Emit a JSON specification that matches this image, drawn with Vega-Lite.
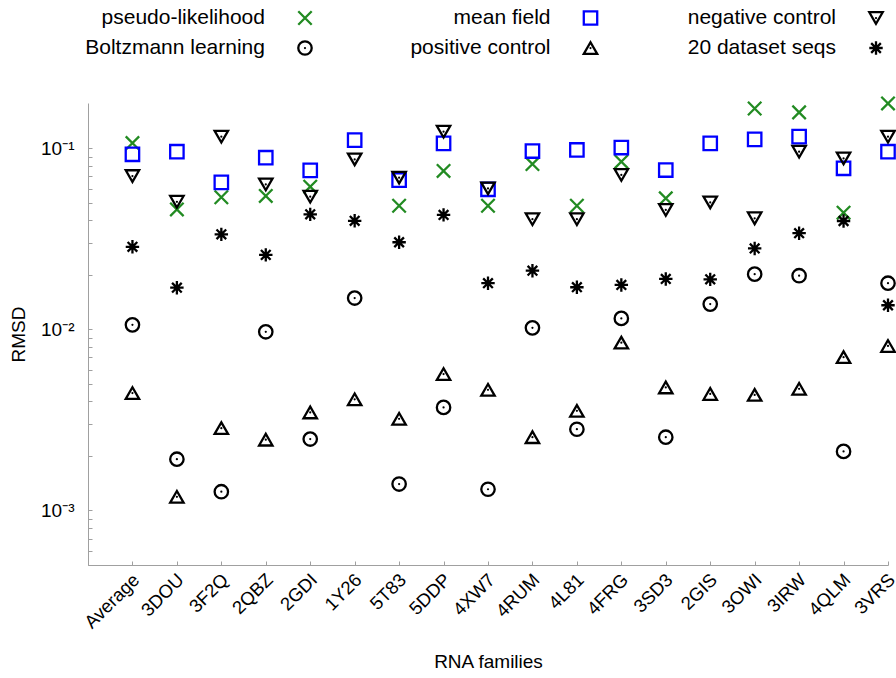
{
  "$schema": "https://vega.github.io/schema/vega-lite/v6.json",
  "width": 800,
  "height": 462,
  "autosize": "none",
  "padding": {"left": 88, "top": 103, "right": 8, "bottom": 113},
  "background": "white",
  "config": {
    "view": {"stroke": null},
    "font": "Liberation Sans",
    "axis": {
      "grid": false,
      "domainColor": "#a0a0a0",
      "tickColor": "#a0a0a0",
      "labelColor": "black",
      "titleColor": "black",
      "titleFontWeight": "normal",
      "titleFont": "Liberation Sans",
      "labelFont": "Liberation Sans"
    }
  },
  "datasets": {
    "main": [
      {"family": "Average", "series": "pseudo-likelihood", "rmsd": 0.107},
      {"family": "3DOU", "series": "pseudo-likelihood", "rmsd": 0.046},
      {"family": "3F2Q", "series": "pseudo-likelihood", "rmsd": 0.0537},
      {"family": "2QBZ", "series": "pseudo-likelihood", "rmsd": 0.0546},
      {"family": "2GDI", "series": "pseudo-likelihood", "rmsd": 0.0614},
      {"family": "5T83", "series": "pseudo-likelihood", "rmsd": 0.0482},
      {"family": "5DDP", "series": "pseudo-likelihood", "rmsd": 0.075},
      {"family": "4XW7", "series": "pseudo-likelihood", "rmsd": 0.0482},
      {"family": "4RUM", "series": "pseudo-likelihood", "rmsd": 0.0819},
      {"family": "4L81", "series": "pseudo-likelihood", "rmsd": 0.0482},
      {"family": "4FRG", "series": "pseudo-likelihood", "rmsd": 0.0844},
      {"family": "3SD3", "series": "pseudo-likelihood", "rmsd": 0.053},
      {"family": "3OWI", "series": "pseudo-likelihood", "rmsd": 0.166},
      {"family": "3IRW", "series": "pseudo-likelihood", "rmsd": 0.158},
      {"family": "4QLM", "series": "pseudo-likelihood", "rmsd": 0.0441},
      {"family": "3VRS", "series": "pseudo-likelihood", "rmsd": 0.177},

      {"family": "Average", "series": "Boltzmann learning", "rmsd": 0.0106},
      {"family": "3DOU", "series": "Boltzmann learning", "rmsd": 0.00192},
      {"family": "3F2Q", "series": "Boltzmann learning", "rmsd": 0.00127},
      {"family": "2QBZ", "series": "Boltzmann learning", "rmsd": 0.0097},
      {"family": "2GDI", "series": "Boltzmann learning", "rmsd": 0.00248},
      {"family": "1Y26", "series": "Boltzmann learning", "rmsd": 0.0149},
      {"family": "5T83", "series": "Boltzmann learning", "rmsd": 0.0014},
      {"family": "5DDP", "series": "Boltzmann learning", "rmsd": 0.00371},
      {"family": "4XW7", "series": "Boltzmann learning", "rmsd": 0.00131},
      {"family": "4RUM", "series": "Boltzmann learning", "rmsd": 0.0102},
      {"family": "4L81", "series": "Boltzmann learning", "rmsd": 0.00281},
      {"family": "4FRG", "series": "Boltzmann learning", "rmsd": 0.0115},
      {"family": "3SD3", "series": "Boltzmann learning", "rmsd": 0.00254},
      {"family": "2GIS", "series": "Boltzmann learning", "rmsd": 0.0138},
      {"family": "3OWI", "series": "Boltzmann learning", "rmsd": 0.0202},
      {"family": "3IRW", "series": "Boltzmann learning", "rmsd": 0.0198},
      {"family": "4QLM", "series": "Boltzmann learning", "rmsd": 0.00212},
      {"family": "3VRS", "series": "Boltzmann learning", "rmsd": 0.018},

      {"family": "Average", "series": "mean field", "rmsd": 0.0927},
      {"family": "3DOU", "series": "mean field", "rmsd": 0.0958},
      {"family": "3F2Q", "series": "mean field", "rmsd": 0.0649},
      {"family": "2QBZ", "series": "mean field", "rmsd": 0.0888},
      {"family": "2GDI", "series": "mean field", "rmsd": 0.0756},
      {"family": "1Y26", "series": "mean field", "rmsd": 0.111},
      {"family": "5T83", "series": "mean field", "rmsd": 0.0668},
      {"family": "5DDP", "series": "mean field", "rmsd": 0.1066},
      {"family": "4XW7", "series": "mean field", "rmsd": 0.0594},
      {"family": "4RUM", "series": "mean field", "rmsd": 0.0966},
      {"family": "4L81", "series": "mean field", "rmsd": 0.098},
      {"family": "4FRG", "series": "mean field", "rmsd": 0.101},
      {"family": "3SD3", "series": "mean field", "rmsd": 0.0759},
      {"family": "2GIS", "series": "mean field", "rmsd": 0.1066},
      {"family": "3OWI", "series": "mean field", "rmsd": 0.112},
      {"family": "3IRW", "series": "mean field", "rmsd": 0.116},
      {"family": "4QLM", "series": "mean field", "rmsd": 0.0776},
      {"family": "3VRS", "series": "mean field", "rmsd": 0.0958},

      {"family": "Average", "series": "positive control", "rmsd": 0.00445},
      {"family": "3DOU", "series": "positive control", "rmsd": 0.00119},
      {"family": "3F2Q", "series": "positive control", "rmsd": 0.00285},
      {"family": "2QBZ", "series": "positive control", "rmsd": 0.00246},
      {"family": "2GDI", "series": "positive control", "rmsd": 0.00348},
      {"family": "1Y26", "series": "positive control", "rmsd": 0.00411},
      {"family": "5T83", "series": "positive control", "rmsd": 0.00321},
      {"family": "5DDP", "series": "positive control", "rmsd": 0.00567},
      {"family": "4XW7", "series": "positive control", "rmsd": 0.00464},
      {"family": "4RUM", "series": "positive control", "rmsd": 0.00254},
      {"family": "4L81", "series": "positive control", "rmsd": 0.00355},
      {"family": "4FRG", "series": "positive control", "rmsd": 0.00845},
      {"family": "3SD3", "series": "positive control", "rmsd": 0.00478},
      {"family": "2GIS", "series": "positive control", "rmsd": 0.0044},
      {"family": "3OWI", "series": "positive control", "rmsd": 0.00435},
      {"family": "3IRW", "series": "positive control", "rmsd": 0.0047},
      {"family": "4QLM", "series": "positive control", "rmsd": 0.00703},
      {"family": "3VRS", "series": "positive control", "rmsd": 0.0081},

      {"family": "Average", "series": "negative control", "rmsd": 0.0703},
      {"family": "3DOU", "series": "negative control", "rmsd": 0.0507},
      {"family": "3F2Q", "series": "negative control", "rmsd": 0.116},
      {"family": "2QBZ", "series": "negative control", "rmsd": 0.0632},
      {"family": "2GDI", "series": "negative control", "rmsd": 0.0541},
      {"family": "1Y26", "series": "negative control", "rmsd": 0.0869},
      {"family": "5T83", "series": "negative control", "rmsd": 0.0689},
      {"family": "5DDP", "series": "negative control", "rmsd": 0.1236},
      {"family": "4XW7", "series": "negative control", "rmsd": 0.0601},
      {"family": "4RUM", "series": "negative control", "rmsd": 0.0406},
      {"family": "4L81", "series": "negative control", "rmsd": 0.0406},
      {"family": "4FRG", "series": "negative control", "rmsd": 0.0713},
      {"family": "3SD3", "series": "negative control", "rmsd": 0.0457},
      {"family": "2GIS", "series": "negative control", "rmsd": 0.0503},
      {"family": "3OWI", "series": "negative control", "rmsd": 0.0411},
      {"family": "3IRW", "series": "negative control", "rmsd": 0.0958},
      {"family": "4QLM", "series": "negative control", "rmsd": 0.088},
      {"family": "3VRS", "series": "negative control", "rmsd": 0.116},

      {"family": "Average", "series": "20 dataset seqs", "rmsd": 0.0286},
      {"family": "3DOU", "series": "20 dataset seqs", "rmsd": 0.017},
      {"family": "3F2Q", "series": "20 dataset seqs", "rmsd": 0.0335},
      {"family": "2QBZ", "series": "20 dataset seqs", "rmsd": 0.0258},
      {"family": "2GDI", "series": "20 dataset seqs", "rmsd": 0.0432},
      {"family": "1Y26", "series": "20 dataset seqs", "rmsd": 0.0398},
      {"family": "5T83", "series": "20 dataset seqs", "rmsd": 0.0303},
      {"family": "5DDP", "series": "20 dataset seqs", "rmsd": 0.0429},
      {"family": "4XW7", "series": "20 dataset seqs", "rmsd": 0.018},
      {"family": "4RUM", "series": "20 dataset seqs", "rmsd": 0.0211},
      {"family": "4L81", "series": "20 dataset seqs", "rmsd": 0.0171},
      {"family": "4FRG", "series": "20 dataset seqs", "rmsd": 0.0176},
      {"family": "3SD3", "series": "20 dataset seqs", "rmsd": 0.019},
      {"family": "2GIS", "series": "20 dataset seqs", "rmsd": 0.0189},
      {"family": "3OWI", "series": "20 dataset seqs", "rmsd": 0.028},
      {"family": "3IRW", "series": "20 dataset seqs", "rmsd": 0.034},
      {"family": "4QLM", "series": "20 dataset seqs", "rmsd": 0.0397},
      {"family": "3VRS", "series": "20 dataset seqs", "rmsd": 0.0136}
    ],
    "legend": [
      {"series": "pseudo-likelihood", "col": 0, "row": 0},
      {"series": "mean field", "col": 1, "row": 0},
      {"series": "negative control", "col": 2, "row": 0},
      {"series": "Boltzmann learning", "col": 0, "row": 1},
      {"series": "positive control", "col": 1, "row": 1},
      {"series": "20 dataset seqs", "col": 2, "row": 1}
    ]
  },
  "layer": [
    {
      "data": {"name": "main"},
      "layer": [
        {
          "mark": {"type": "point", "filled": false, "strokeWidth": 2.3, "size": 180, "opacity": 1},
          "encoding": {
            "x": {
              "field": "family", "type": "nominal", "sort": null,
              "scale": {"type": "point", "padding": 0, "domain": ["", "Average", "3DOU", "3F2Q", "2QBZ", "2GDI", "1Y26", "5T83", "5DDP", "4XW7", "4RUM", "4L81", "4FRG", "3SD3", "2GIS", "3OWI", "3IRW", "4QLM", "3VRS"]},
              "axis": {"title": "RNA families", "titleFontSize": 19, "titlePadding": 21, "labelAngle": -45, "labelAlign": "right", "labelBaseline": "top", "labelFontSize": 18.5, "labelOffset": -3, "tickSize": -4, "labelPadding": 9, "labelOverlap": false}
            },
            "y": {
              "field": "rmsd", "type": "quantitative",
              "scale": {"type": "log", "domain": [0.0005, 0.178], "nice": false},
              "axis": {
                "title": "RMSD", "titleFontSize": 19, "titlePadding": 12,
                "values": [0.0005, 0.0006, 0.0007, 0.0008, 0.0009, 0.001, 0.002, 0.003, 0.004, 0.005, 0.006, 0.007, 0.008, 0.009, 0.01, 0.02, 0.03, 0.04, 0.05, 0.06, 0.07, 0.08, 0.09, 0.1],
                "labelExpr": "datum.value == 0.1 ? '10⁻¹' : datum.value == 0.01 ? '10⁻²' : datum.value == 0.001 ? '10⁻³' : ''",
                "labelFontSize": 19, "tickSize": -4, "labelPadding": 18, "labelOverlap": false
              }
            },
            "shape": {
              "field": "series", "type": "nominal",
              "scale": {
                "domain": ["pseudo-likelihood", "Boltzmann learning", "mean field", "positive control", "negative control", "20 dataset seqs"],
                "range": ["M-1,-1L1,1M-1,1L1,-1", "circle", "square", "triangle-up", "triangle-down", "M0,-1L0,1M-1,0L1,0M-0.72,-0.72L0.72,0.72M-0.72,0.72L0.72,-0.72"]
              },
              "legend": null
            },
            "color": {
              "field": "series", "type": "nominal",
              "scale": {
                "domain": ["pseudo-likelihood", "Boltzmann learning", "mean field", "positive control", "negative control", "20 dataset seqs"],
                "range": ["#228b22", "#000000", "#0000ff", "#000000", "#000000", "#000000"]
              },
              "legend": null
            }
          }
        },
        {
          "transform": [{"filter": {"field": "series", "oneOf": ["Boltzmann learning", "positive control", "negative control"]}}],
          "mark": {"type": "point", "filled": true, "size": 5, "color": "black", "opacity": 1, "shape": "circle"},
          "encoding": {
            "x": {"field": "family", "type": "nominal", "sort": null},
            "y": {"field": "rmsd", "type": "quantitative"}
          }
        }
      ]
    },
    {
      "data": {"name": "legend"},
      "layer": [
        {
          "mark": {"type": "point", "filled": false, "strokeWidth": 2.3, "size": 180, "opacity": 1},
          "encoding": {
            "x": {"field": "col", "type": "quantitative", "scale": {"domain": [-0.76, 2.042], "nice": false, "zero": false}, "axis": null},
            "y": {"field": "row", "type": "quantitative", "scale": {"domain": [2.833, 18.233], "reverse": true, "nice": false, "zero": false}, "axis": null},
            "shape": {"field": "series", "type": "nominal", "legend": null},
            "color": {"field": "series", "type": "nominal", "legend": null}
          }
        },
        {
          "transform": [{"filter": {"field": "series", "oneOf": ["Boltzmann learning", "positive control", "negative control"]}}],
          "mark": {"type": "point", "filled": true, "size": 5, "color": "black", "opacity": 1, "shape": "circle"},
          "encoding": {
            "x": {"field": "col", "type": "quantitative"},
            "y": {"field": "row", "type": "quantitative"}
          }
        },
        {
          "mark": {"type": "text", "align": "right", "baseline": "middle", "dx": -40, "fontSize": 21, "font": "Liberation Sans", "color": "black"},
          "encoding": {
            "x": {"field": "col", "type": "quantitative"},
            "y": {"field": "row", "type": "quantitative"},
            "text": {"field": "series", "type": "nominal"}
          }
        }
      ]
    }
  ],
  "resolve": {"scale": {"x": "independent", "y": "independent"}}
}
